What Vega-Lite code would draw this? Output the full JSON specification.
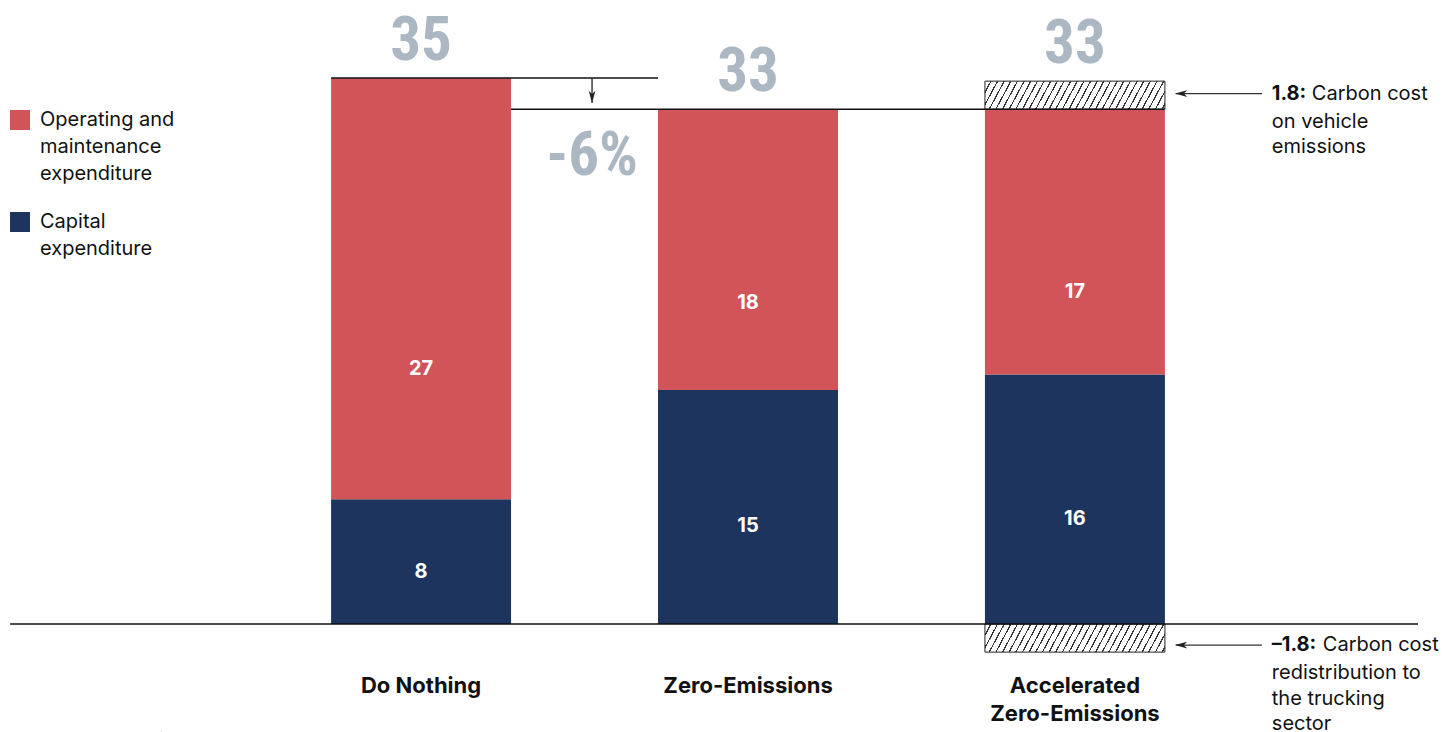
{
  "$schema": "https://vega.github.io/schema/vega-lite/v6.json",
  "width": 1455,
  "height": 732,
  "autosize": {"type": "none"},
  "padding": 0,
  "background": "white",
  "config": {
    "view": {"stroke": null},
    "font": "Inter",
    "style": {"guide-label": {"lineHeight": 27}}
  },
  "datasets": {
    "costs": [
      {"scenario": "Do Nothing", "component": "Capital expenditure", "value": 8},
      {"scenario": "Do Nothing", "component": "Operating and maintenance expenditure", "value": 27},
      {"scenario": "Zero-Emissions", "component": "Capital expenditure", "value": 15},
      {"scenario": "Zero-Emissions", "component": "Operating and maintenance expenditure", "value": 18},
      {"scenario": "Accelerated Zero-Emissions", "component": "Capital expenditure", "value": 16},
      {"scenario": "Accelerated Zero-Emissions", "component": "Operating and maintenance expenditure", "value": 17}
    ],
    "totals": [
      {"scenario": "Do Nothing", "top": 35, "total": "35", "name": "Do Nothing"},
      {"scenario": "Zero-Emissions", "top": 33, "total": "33", "name": "Zero-Emissions"},
      {"scenario": "Accelerated Zero-Emissions", "top": 34.8, "total": "33", "name": ["Accelerated", "Zero-Emissions"]}
    ],
    "carbon": [
      {"scenario": "Accelerated Zero-Emissions", "start": 33, "end": 34.8},
      {"scenario": "Accelerated Zero-Emissions", "start": 0, "end": -1.8}
    ],
    "anno": [
      {"scenario": "Accelerated Zero-Emissions", "level": 34.0, "head": "1.8:", "first": "Carbon cost", "rest": ["on vehicle", "emissions"]},
      {"scenario": "Accelerated Zero-Emissions", "level": -1.35, "head": "–1.8:", "first": "Carbon cost", "rest": ["redistribution to", "the trucking", "sector"]}
    ]
  },
  "layer": [
    {
      "data": {"name": "costs"},
      "mark": {"type": "bar"},
      "encoding": {
        "x": {
          "field": "scenario", "type": "nominal",
          "scale": {"domain": ["Do Nothing", "Zero-Emissions", "Accelerated Zero-Emissions"], "paddingInner": 0.4495, "paddingOuter": 0.95, "align": 0.533},
          "axis": null
        },
        "y": {"field": "value", "type": "quantitative", "stack": "zero", "scale": {"domain": [-6.92, 40], "nice": false, "zero": false}, "axis": null},
        "color": {
          "field": "component", "type": "nominal",
          "scale": {"domain": ["Operating and maintenance expenditure", "Capital expenditure"], "range": ["#d05458", "#1d355e"]},
          "legend": {
            "orient": "none", "legendX": 10, "legendY": 110, "title": null,
            "symbolType": "square", "symbolSize": 400, "symbolStrokeWidth": 0,
            "labelFont": "Inter", "labelFontSize": 20, "labelColor": "#111111", "labelOffset": 10,
            "labelLimit": 300, "rowPadding": 28,
            "labelExpr": "datum.label == 'Capital expenditure' ? ['Capital', 'expenditure'] : ['Operating and', 'maintenance', 'expenditure']"
          }
        },
        "order": {"field": "component", "sort": "ascending"}
      }
    },
    {
      "data": {"name": "carbon"},
      "mark": {
        "type": "bar", "stroke": "#222222", "strokeWidth": 1,
        "fill": {
          "gradient": "linear", "x1": 0, "y1": 0, "x2": 1.1, "y2": 0.0917,
          "stops": [
            {"offset": 0, "color": "#ffffff"}, {"offset": 0.0267, "color": "#ffffff"}, {"offset": 0.0267, "color": "#333333"}, {"offset": 0.0333, "color": "#333333"},
            {"offset": 0.0333, "color": "#ffffff"}, {"offset": 0.06, "color": "#ffffff"}, {"offset": 0.06, "color": "#333333"}, {"offset": 0.0667, "color": "#333333"},
            {"offset": 0.0667, "color": "#ffffff"}, {"offset": 0.0933, "color": "#ffffff"}, {"offset": 0.0933, "color": "#333333"}, {"offset": 0.1, "color": "#333333"},
            {"offset": 0.1, "color": "#ffffff"}, {"offset": 0.1267, "color": "#ffffff"}, {"offset": 0.1267, "color": "#333333"}, {"offset": 0.1333, "color": "#333333"},
            {"offset": 0.1333, "color": "#ffffff"}, {"offset": 0.16, "color": "#ffffff"}, {"offset": 0.16, "color": "#333333"}, {"offset": 0.1667, "color": "#333333"},
            {"offset": 0.1667, "color": "#ffffff"}, {"offset": 0.1933, "color": "#ffffff"}, {"offset": 0.1933, "color": "#333333"}, {"offset": 0.2, "color": "#333333"},
            {"offset": 0.2, "color": "#ffffff"}, {"offset": 0.2267, "color": "#ffffff"}, {"offset": 0.2267, "color": "#333333"}, {"offset": 0.2333, "color": "#333333"},
            {"offset": 0.2333, "color": "#ffffff"}, {"offset": 0.26, "color": "#ffffff"}, {"offset": 0.26, "color": "#333333"}, {"offset": 0.2667, "color": "#333333"},
            {"offset": 0.2667, "color": "#ffffff"}, {"offset": 0.2933, "color": "#ffffff"}, {"offset": 0.2933, "color": "#333333"}, {"offset": 0.3, "color": "#333333"},
            {"offset": 0.3, "color": "#ffffff"}, {"offset": 0.3267, "color": "#ffffff"}, {"offset": 0.3267, "color": "#333333"}, {"offset": 0.3333, "color": "#333333"},
            {"offset": 0.3333, "color": "#ffffff"}, {"offset": 0.36, "color": "#ffffff"}, {"offset": 0.36, "color": "#333333"}, {"offset": 0.3667, "color": "#333333"},
            {"offset": 0.3667, "color": "#ffffff"}, {"offset": 0.3933, "color": "#ffffff"}, {"offset": 0.3933, "color": "#333333"}, {"offset": 0.4, "color": "#333333"},
            {"offset": 0.4, "color": "#ffffff"}, {"offset": 0.4267, "color": "#ffffff"}, {"offset": 0.4267, "color": "#333333"}, {"offset": 0.4333, "color": "#333333"},
            {"offset": 0.4333, "color": "#ffffff"}, {"offset": 0.46, "color": "#ffffff"}, {"offset": 0.46, "color": "#333333"}, {"offset": 0.4667, "color": "#333333"},
            {"offset": 0.4667, "color": "#ffffff"}, {"offset": 0.4933, "color": "#ffffff"}, {"offset": 0.4933, "color": "#333333"}, {"offset": 0.5, "color": "#333333"},
            {"offset": 0.5, "color": "#ffffff"}, {"offset": 0.5267, "color": "#ffffff"}, {"offset": 0.5267, "color": "#333333"}, {"offset": 0.5333, "color": "#333333"},
            {"offset": 0.5333, "color": "#ffffff"}, {"offset": 0.56, "color": "#ffffff"}, {"offset": 0.56, "color": "#333333"}, {"offset": 0.5667, "color": "#333333"},
            {"offset": 0.5667, "color": "#ffffff"}, {"offset": 0.5933, "color": "#ffffff"}, {"offset": 0.5933, "color": "#333333"}, {"offset": 0.6, "color": "#333333"},
            {"offset": 0.6, "color": "#ffffff"}, {"offset": 0.6267, "color": "#ffffff"}, {"offset": 0.6267, "color": "#333333"}, {"offset": 0.6333, "color": "#333333"},
            {"offset": 0.6333, "color": "#ffffff"}, {"offset": 0.66, "color": "#ffffff"}, {"offset": 0.66, "color": "#333333"}, {"offset": 0.6667, "color": "#333333"},
            {"offset": 0.6667, "color": "#ffffff"}, {"offset": 0.6933, "color": "#ffffff"}, {"offset": 0.6933, "color": "#333333"}, {"offset": 0.7, "color": "#333333"},
            {"offset": 0.7, "color": "#ffffff"}, {"offset": 0.7267, "color": "#ffffff"}, {"offset": 0.7267, "color": "#333333"}, {"offset": 0.7333, "color": "#333333"},
            {"offset": 0.7333, "color": "#ffffff"}, {"offset": 0.76, "color": "#ffffff"}, {"offset": 0.76, "color": "#333333"}, {"offset": 0.7667, "color": "#333333"},
            {"offset": 0.7667, "color": "#ffffff"}, {"offset": 0.7933, "color": "#ffffff"}, {"offset": 0.7933, "color": "#333333"}, {"offset": 0.8, "color": "#333333"},
            {"offset": 0.8, "color": "#ffffff"}, {"offset": 0.8267, "color": "#ffffff"}, {"offset": 0.8267, "color": "#333333"}, {"offset": 0.8333, "color": "#333333"},
            {"offset": 0.8333, "color": "#ffffff"}, {"offset": 0.86, "color": "#ffffff"}, {"offset": 0.86, "color": "#333333"}, {"offset": 0.8667, "color": "#333333"},
            {"offset": 0.8667, "color": "#ffffff"}, {"offset": 0.8933, "color": "#ffffff"}, {"offset": 0.8933, "color": "#333333"}, {"offset": 0.9, "color": "#333333"},
            {"offset": 0.9, "color": "#ffffff"}, {"offset": 0.9267, "color": "#ffffff"}, {"offset": 0.9267, "color": "#333333"}, {"offset": 0.9333, "color": "#333333"},
            {"offset": 0.9333, "color": "#ffffff"}, {"offset": 0.96, "color": "#ffffff"}, {"offset": 0.96, "color": "#333333"}, {"offset": 0.9667, "color": "#333333"},
            {"offset": 0.9667, "color": "#ffffff"}, {"offset": 0.9933, "color": "#ffffff"}, {"offset": 0.9933, "color": "#333333"}, {"offset": 1, "color": "#333333"}
          ]
        }
      },
      "encoding": {
        "x": {"field": "scenario", "type": "nominal", "scale": {"domain": ["Do Nothing", "Zero-Emissions", "Accelerated Zero-Emissions"], "paddingInner": 0.4495, "paddingOuter": 0.95, "align": 0.533}, "axis": null},
        "y": {"field": "start", "type": "quantitative", "scale": {"domain": [-6.92, 40], "nice": false, "zero": false}, "axis": null},
        "y2": {"field": "end"}
      }
    },
    {
      "data": {"values": [{"from": "Do Nothing", "to": "Zero-Emissions", "level": 35}]},
      "mark": {"type": "rule", "color": "#111111", "strokeWidth": 1.5},
      "encoding": {
        "x": {"field": "from", "type": "nominal", "bandPosition": 0, "scale": {"domain": ["Do Nothing", "Zero-Emissions", "Accelerated Zero-Emissions"], "paddingInner": 0.4495, "paddingOuter": 0.95, "align": 0.533}, "axis": null},
        "x2": {"field": "to", "bandPosition": 0},
        "y": {"field": "level", "type": "quantitative", "scale": {"domain": [-6.92, 40], "nice": false, "zero": false}, "axis": null}
      }
    },
    {
      "data": {"values": [{"from": "Do Nothing", "to": "Accelerated Zero-Emissions", "level": 33}]},
      "mark": {"type": "rule", "color": "#111111", "strokeWidth": 1.5},
      "encoding": {
        "x": {"field": "from", "type": "nominal", "bandPosition": 1, "scale": {"domain": ["Do Nothing", "Zero-Emissions", "Accelerated Zero-Emissions"], "paddingInner": 0.4495, "paddingOuter": 0.95, "align": 0.533}, "axis": null},
        "x2": {"field": "to", "bandPosition": 1},
        "y": {"field": "level", "type": "quantitative", "scale": {"domain": [-6.92, 40], "nice": false, "zero": false}, "axis": null}
      }
    },
    {
      "data": {"values": [{"from": "Do Nothing", "to": "Accelerated Zero-Emissions", "level": 0}]},
      "mark": {"type": "rule", "color": "#111111", "strokeWidth": 1.5},
      "encoding": {
        "x": {"field": "from", "type": "nominal", "bandPosition": -1.783, "scale": {"domain": ["Do Nothing", "Zero-Emissions", "Accelerated Zero-Emissions"], "paddingInner": 0.4495, "paddingOuter": 0.95, "align": 0.533}, "axis": null},
        "x2": {"field": "to", "bandPosition": 2.406},
        "y": {"field": "level", "type": "quantitative", "scale": {"domain": [-6.92, 40], "nice": false, "zero": false}, "axis": null}
      }
    },
    {
      "data": {"values": [{"scenario": "Do Nothing", "from": 35, "to": 33.4}]},
      "layer": [
        {
          "mark": {"type": "rule", "color": "#222222", "strokeWidth": 1.3},
          "encoding": {
            "x": {"field": "scenario", "type": "nominal", "bandPosition": 1.45, "scale": {"domain": ["Do Nothing", "Zero-Emissions", "Accelerated Zero-Emissions"], "paddingInner": 0.4495, "paddingOuter": 0.95, "align": 0.533}, "axis": null},
            "y": {"field": "from", "type": "quantitative", "scale": {"domain": [-6.92, 40], "nice": false, "zero": false}, "axis": null},
            "y2": {"field": "to"}
          }
        },
        {
          "mark": {"type": "point", "filled": true, "color": "#222222", "opacity": 1, "size": 150, "shape": "M0,0L-0.55,-2L0,-1.45L0.55,-2Z"},
          "encoding": {
            "x": {"field": "scenario", "type": "nominal", "bandPosition": 1.45, "scale": {"domain": ["Do Nothing", "Zero-Emissions", "Accelerated Zero-Emissions"], "paddingInner": 0.4495, "paddingOuter": 0.95, "align": 0.533}, "axis": null},
            "y": {"field": "to", "type": "quantitative", "scale": {"domain": [-6.92, 40], "nice": false, "zero": false}, "axis": null}
          }
        }
      ]
    },
    {
      "data": {"name": "anno"},
      "layer": [
        {
          "mark": {"type": "rule", "color": "#333333", "strokeWidth": 1.3},
          "encoding": {
            "x": {"field": "scenario", "type": "nominal", "bandPosition": 1.06, "scale": {"domain": ["Do Nothing", "Zero-Emissions", "Accelerated Zero-Emissions"], "paddingInner": 0.4495, "paddingOuter": 0.95, "align": 0.533}, "axis": null},
            "x2": {"field": "scenario", "bandPosition": 1.539},
            "y": {"field": "level", "type": "quantitative", "scale": {"domain": [-6.92, 40], "nice": false, "zero": false}, "axis": null}
          }
        },
        {
          "mark": {"type": "point", "filled": true, "color": "#222222", "opacity": 1, "size": 150, "shape": "M0,0L2,-0.55L1.45,0L2,0.55Z"},
          "encoding": {
            "x": {"field": "scenario", "type": "nominal", "bandPosition": 1.056, "scale": {"domain": ["Do Nothing", "Zero-Emissions", "Accelerated Zero-Emissions"], "paddingInner": 0.4495, "paddingOuter": 0.95, "align": 0.533}, "axis": null},
            "y": {"field": "level", "type": "quantitative", "scale": {"domain": [-6.92, 40], "nice": false, "zero": false}, "axis": null}
          }
        },
        {
          "mark": {"type": "text", "font": "Inter", "fontWeight": "bold", "fontSize": 20, "color": "#111111", "align": "left", "baseline": "middle"},
          "encoding": {
            "x": {"field": "scenario", "type": "nominal", "bandPosition": 1.594, "scale": {"domain": ["Do Nothing", "Zero-Emissions", "Accelerated Zero-Emissions"], "paddingInner": 0.4495, "paddingOuter": 0.95, "align": 0.533}, "axis": null},
            "y": {"field": "level", "type": "quantitative", "scale": {"domain": [-6.92, 40], "nice": false, "zero": false}, "axis": null},
            "text": {"field": "head", "type": "nominal"}
          }
        },
        {
          "transform": [{"filter": "datum.level > 0"}],
          "mark": {"type": "text", "font": "Inter", "fontSize": 20, "color": "#111111", "align": "left", "baseline": "middle", "dx": 40},
          "encoding": {
            "x": {"field": "scenario", "type": "nominal", "bandPosition": 1.594, "scale": {"domain": ["Do Nothing", "Zero-Emissions", "Accelerated Zero-Emissions"], "paddingInner": 0.4495, "paddingOuter": 0.95, "align": 0.533}, "axis": null},
            "y": {"field": "level", "type": "quantitative", "scale": {"domain": [-6.92, 40], "nice": false, "zero": false}, "axis": null},
            "text": {"field": "first", "type": "nominal"}
          }
        },
        {
          "transform": [{"filter": "datum.level < 0"}],
          "mark": {"type": "text", "font": "Inter", "fontSize": 20, "color": "#111111", "align": "left", "baseline": "middle", "dx": 51},
          "encoding": {
            "x": {"field": "scenario", "type": "nominal", "bandPosition": 1.594, "scale": {"domain": ["Do Nothing", "Zero-Emissions", "Accelerated Zero-Emissions"], "paddingInner": 0.4495, "paddingOuter": 0.95, "align": 0.533}, "axis": null},
            "y": {"field": "level", "type": "quantitative", "scale": {"domain": [-6.92, 40], "nice": false, "zero": false}, "axis": null},
            "text": {"field": "first", "type": "nominal"}
          }
        },
        {
          "mark": {"type": "text", "font": "Inter", "fontSize": 20, "color": "#111111", "align": "left", "baseline": "top", "dy": 18, "lineHeight": 25.5},
          "encoding": {
            "x": {"field": "scenario", "type": "nominal", "bandPosition": 1.594, "scale": {"domain": ["Do Nothing", "Zero-Emissions", "Accelerated Zero-Emissions"], "paddingInner": 0.4495, "paddingOuter": 0.95, "align": 0.533}, "axis": null},
            "y": {"field": "level", "type": "quantitative", "scale": {"domain": [-6.92, 40], "nice": false, "zero": false}, "axis": null},
            "text": {"field": "rest", "type": "nominal"}
          }
        }
      ]
    },
    {
      "data": {"name": "costs"},
      "transform": [{"filter": "datum.component == 'Capital expenditure'"}],
      "mark": {"type": "text", "font": "Inter", "fontWeight": "bold", "fontSize": 20, "color": "white", "baseline": "middle"},
      "encoding": {
        "x": {"field": "scenario", "type": "nominal", "scale": {"domain": ["Do Nothing", "Zero-Emissions", "Accelerated Zero-Emissions"], "paddingInner": 0.4495, "paddingOuter": 0.95, "align": 0.533}, "axis": null},
        "y": {"field": "value", "type": "quantitative", "stack": "zero", "bandPosition": 0.42, "scale": {"domain": [-6.92, 40], "nice": false, "zero": false}, "axis": null},
        "text": {"field": "value", "type": "quantitative"}
      }
    },
    {
      "data": {"name": "costs"},
      "mark": {"type": "text", "font": "Inter", "fontWeight": "bold", "fontSize": 20, "color": "white", "baseline": "middle"},
      "encoding": {
        "x": {"field": "scenario", "type": "nominal", "scale": {"domain": ["Do Nothing", "Zero-Emissions", "Accelerated Zero-Emissions"], "paddingInner": 0.4495, "paddingOuter": 0.95, "align": 0.533}, "axis": null},
        "y": {"field": "value", "type": "quantitative", "stack": "zero", "bandPosition": 0.31, "scale": {"domain": [-6.92, 40], "nice": false, "zero": false}, "axis": null},
        "detail": {"field": "component", "type": "nominal"},
        "order": {"field": "component", "sort": "ascending"},
        "text": {"condition": {"test": "datum.component == 'Capital expenditure'", "value": ""}, "field": "value", "type": "quantitative"}
      }
    },
    {
      "data": {"name": "totals"},
      "mark": {"type": "text", "font": "Noto Sans ExtraCondensed, Noto Sans Condensed, Roboto Condensed, DejaVu Sans Condensed, sans-serif", "fontWeight": "bold", "fontSize": 61, "color": "#abb7c2", "baseline": "alphabetic", "dy": -18},
      "encoding": {
        "x": {"field": "scenario", "type": "nominal", "scale": {"domain": ["Do Nothing", "Zero-Emissions", "Accelerated Zero-Emissions"], "paddingInner": 0.4495, "paddingOuter": 0.95, "align": 0.533}, "axis": null},
        "y": {"field": "top", "type": "quantitative", "scale": {"domain": [-6.92, 40], "nice": false, "zero": false}, "axis": null},
        "text": {"field": "total", "type": "nominal"}
      }
    },
    {
      "data": {"name": "totals"},
      "mark": {"type": "text", "font": "Inter", "fontWeight": "bold", "fontSize": 22, "color": "#111111", "baseline": "top", "dy": 52, "lineHeight": 28},
      "encoding": {
        "x": {"field": "scenario", "type": "nominal", "scale": {"domain": ["Do Nothing", "Zero-Emissions", "Accelerated Zero-Emissions"], "paddingInner": 0.4495, "paddingOuter": 0.95, "align": 0.533}, "axis": null},
        "y": {"datum": 0, "type": "quantitative", "scale": {"domain": [-6.92, 40], "nice": false, "zero": false}, "axis": null},
        "text": {"field": "name", "type": "nominal"}
      }
    },
    {
      "data": {"values": [{"scenario": "Do Nothing", "source": "Source: RMI analysis"}]},
      "mark": {"type": "text", "font": "Inter", "fontSize": 16, "color": "#777777", "align": "left", "baseline": "alphabetic", "dy": 120},
      "encoding": {
        "x": {"field": "scenario", "type": "nominal", "bandPosition": -1.761, "scale": {"domain": ["Do Nothing", "Zero-Emissions", "Accelerated Zero-Emissions"], "paddingInner": 0.4495, "paddingOuter": 0.95, "align": 0.533}, "axis": null},
        "y": {"datum": 0, "type": "quantitative", "scale": {"domain": [-6.92, 40], "nice": false, "zero": false}, "axis": null},
        "text": {"field": "source", "type": "nominal"}
      }
    },
    {
      "data": {"values": [{"scenario": "Do Nothing", "level": 33, "change": "-6%"}]},
      "mark": {"type": "text", "font": "Noto Sans ExtraCondensed, Noto Sans Condensed, Roboto Condensed, DejaVu Sans Condensed, sans-serif", "fontWeight": "bold", "fontSize": 61, "color": "#abb7c2", "baseline": "alphabetic", "dy": 66},
      "encoding": {
        "x": {"field": "scenario", "type": "nominal", "bandPosition": 1.45, "scale": {"domain": ["Do Nothing", "Zero-Emissions", "Accelerated Zero-Emissions"], "paddingInner": 0.4495, "paddingOuter": 0.95, "align": 0.533}, "axis": null},
        "y": {"field": "level", "type": "quantitative", "scale": {"domain": [-6.92, 40], "nice": false, "zero": false}, "axis": null},
        "text": {"field": "change", "type": "nominal"}
      }
    }
  ]
}
